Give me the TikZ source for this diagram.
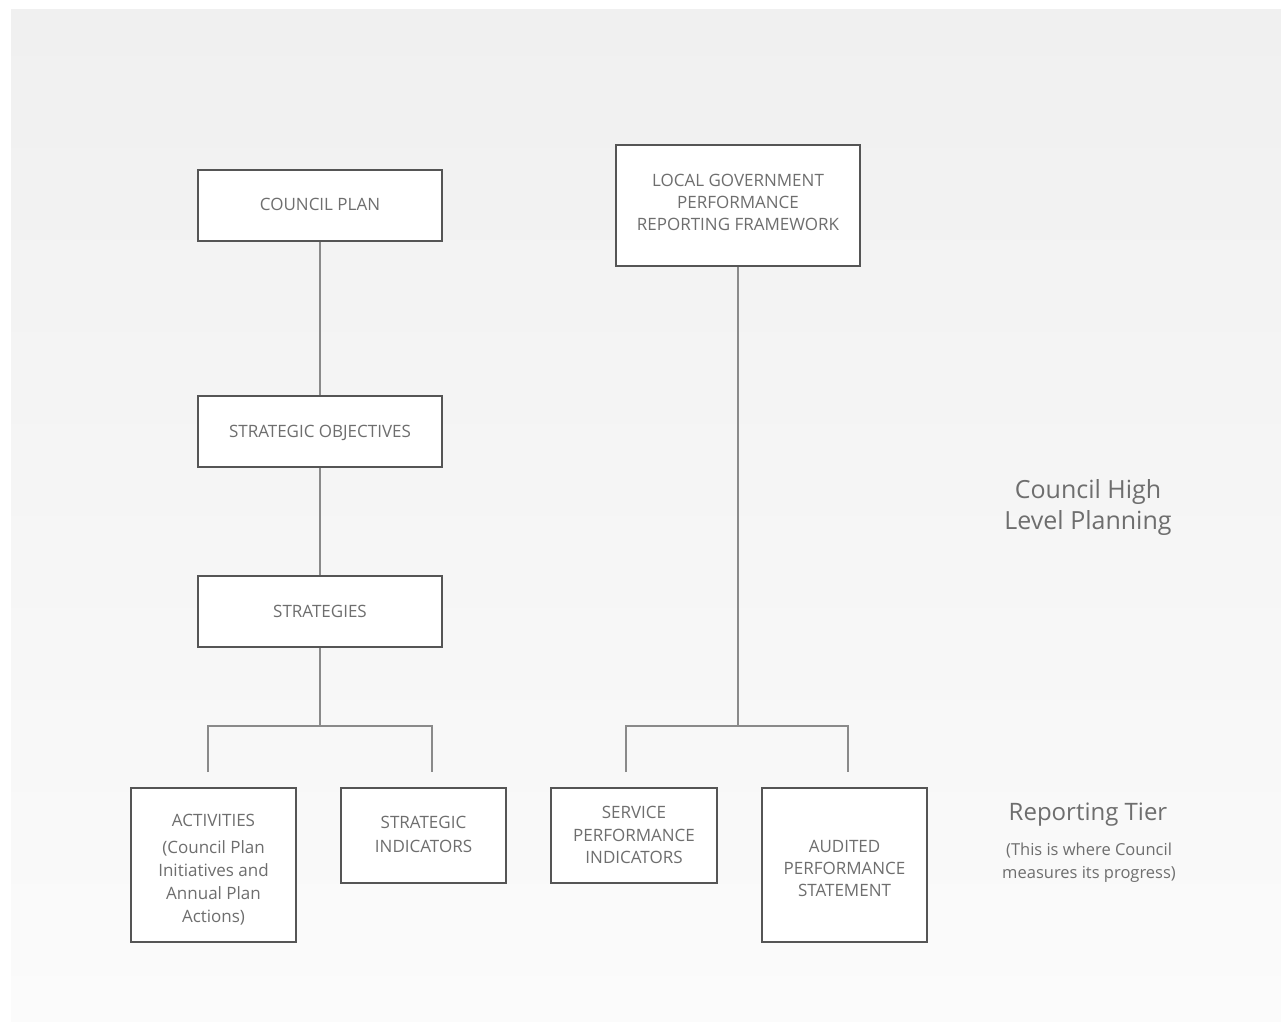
\documentclass[tikz,border=0pt]{standalone}
\usepackage{fontspec}
\setmainfont{Open Sans}
\definecolor{boxline}{HTML}{555555}
\definecolor{conn}{HTML}{8A8A8A}
\definecolor{txt}{HTML}{6E6E6E}
\definecolor{bgtop}{HTML}{F0F0F0}
\definecolor{bgbot}{HTML}{FBFBFB}
\tikzset{
  box/.style={draw=boxline, line width=2pt, fill=white, inner sep=0pt},
  boxtext/.style={text=txt, align=center, inner sep=0pt, font=\fontsize{17}{22}\selectfont},
  conn/.style={draw=conn, line width=1.6pt},
  side/.style={text=txt, align=center, inner sep=0pt}
}
\begin{document}
\begin{tikzpicture}[x=1pt,y=-1pt]
\useasboundingbox (0,0) rectangle (1281,1024);
\fill[white] (0,0) rectangle (1281,1024);
\shade[top color=bgtop, bottom color=bgbot] (11,10) rectangle (1281,1021);

\node[box, minimum width=244pt, minimum height=71pt] (cp) at (320,205.5) {};
\node[box, minimum width=244pt, minimum height=71pt] (so) at (320,431.5) {};
\node[box, minimum width=244pt, minimum height=71pt] (st) at (320,611.5) {};
\node[box, minimum width=244pt, minimum height=121pt] (lg) at (738,205.5) {};
\node[box, minimum width=165pt, minimum height=154pt] (ac) at (213.5,865) {};
\node[box, minimum width=165pt, minimum height=95pt] (si) at (423.5,835.5) {};
\node[box, minimum width=166pt, minimum height=95pt] (sp) at (634,835.5) {};
\node[box, minimum width=165pt, minimum height=154pt] (au) at (844.5,865) {};

\node[boxtext] (cpt) at ([yshift=1pt]cp.center) {COUNCIL PLAN};
\node[boxtext] (sot) at ([yshift=-1.5pt]so.center) {STRATEGIC OBJECTIVES};
\node[boxtext] (stt) at (st.center) {STRATEGIES};
\node[boxtext] (lgt) at ([yshift=3pt]lg.center) {LOCAL GOVERNMENT\\PERFORMANCE\\REPORTING FRAMEWORK};
\node[boxtext, font=\fontsize{17}{23}\selectfont] (act) at ([yshift=-4.5pt]ac.center) {ACTIVITIES\\[4pt](Council Plan\\Initiatives and\\Annual Plan\\Actions)};
\node[boxtext, font=\fontsize{17}{24}\selectfont] (sit) at ([yshift=1pt]si.center) {STRATEGIC\\INDICATORS};
\node[boxtext, font=\fontsize{17}{22.5}\selectfont] (spt) at ([yshift=0.5pt]sp.center) {SERVICE\\PERFORMANCE\\INDICATORS};
\node[boxtext] (aut) at ([yshift=-3.5pt]au.center) {AUDITED\\PERFORMANCE\\STATEMENT};

\node[side, font=\fontsize{25}{31}\selectfont] (hl) at (1088,508) {Council High\\Level Planning};
\node[side, font=\fontsize{24}{30}\selectfont] (rt) at (1088,815) {Reporting Tier};
\node[side, font=\fontsize{16.5}{23}\selectfont] (rn) at (1089,863) {(This is where Council\\measures its progress)};

\coordinate (lj) at (320,726);
\coordinate (la) at (208,726);
\coordinate (lb) at (432,726);
\coordinate (la2) at (208,772);
\coordinate (lb2) at (432,772);
\coordinate (rj) at (738,726);
\coordinate (ra) at (626,726);
\coordinate (rb) at (848,726);
\coordinate (ra2) at (626,772);
\coordinate (rb2) at (848,772);

\draw[conn] (cp.south) -- (so.north);
\draw[conn] (so.south) -- (st.north);
\draw[conn] (st.south) -- (lj);
\draw[conn] (la2) -- (la) -- (lb) -- (lb2);
\draw[conn] (lg.south) -- (rj);
\draw[conn] (ra2) -- (ra) -- (rb) -- (rb2);
\end{tikzpicture}
\end{document}
